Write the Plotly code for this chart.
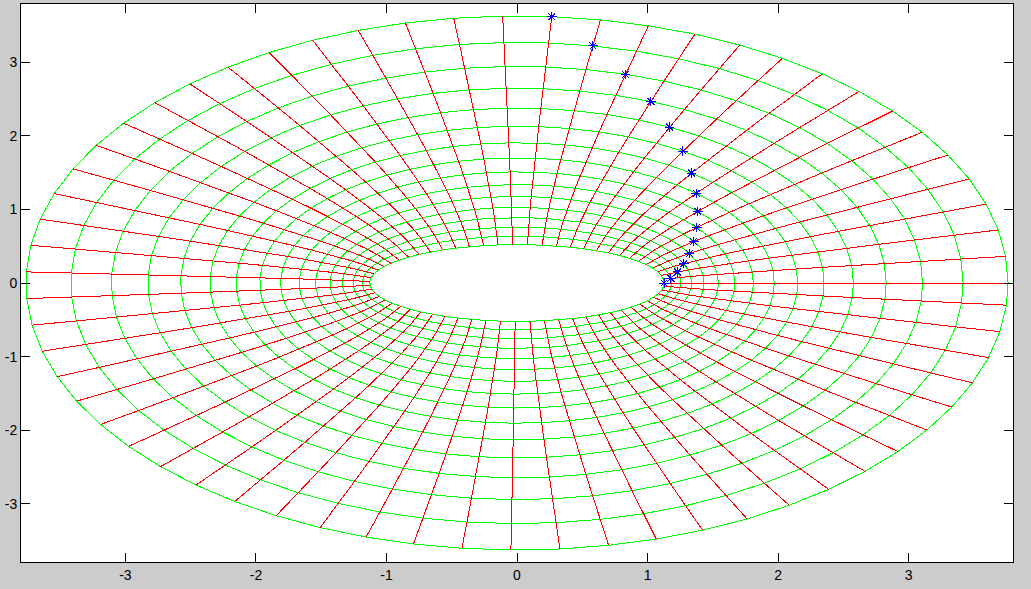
import numpy as np
import plotly.graph_objects as go

# Elliptic-coordinate grid parameters
u_levels = [0.5, 0.6, 0.7, 0.8, 0.9, 1.0, 1.1, 1.2, 1.3, 1.4, 1.5, 1.6, 1.7, 1.8, 1.9, 2.0]
v_levels = [round(0.1 * i, 1) for i in range(63)]  # 0.0 .. 6.2 rad
# Blue asterisk points (diagonal of the grid)
marker_u = [0.5, 0.6, 0.7, 0.8, 0.9, 1.0, 1.1, 1.2, 1.3, 1.4, 1.5, 1.6, 1.7, 1.8, 1.9, 2.0]
marker_v = [0.0, 0.1, 0.2, 0.3, 0.4, 0.5, 0.6, 0.7, 0.8, 0.9, 1.0, 1.1, 1.2, 1.3, 1.4, 1.5]
x_ticks = [-3, -2, -1, 0, 1, 2, 3]
y_ticks = [-3, -2, -1, 0, 1, 2, 3]
x_range = [-3.8, 3.8]
y_range = [-3.79, 3.79]

U = np.array(u_levels)
V = np.array(v_levels)

def to_xy(u, v):
    return np.cosh(u) * np.cos(v), np.sinh(u) * np.sin(v)

# green ellipses (constant u)
gx, gy = [], []
for u in U:
    vv = np.append(V, V[0])
    x, y = to_xy(u, vv)
    gx += list(x) + [None]
    gy += list(y) + [None]

# red hyperbolic lines (constant v)
rx, ry = [], []
for v in V:
    x, y = to_xy(U, v)
    rx += list(x) + [None]
    ry += list(y) + [None]

mx, my = to_xy(np.array(marker_u), np.array(marker_v))

fig = go.Figure()
fig.add_trace(go.Scatter(x=gx, y=gy, mode="lines", line=dict(color="#00FF00", width=1),
                         hoverinfo="skip", showlegend=False))
fig.add_trace(go.Scatter(x=rx, y=ry, mode="lines", line=dict(color="#FF0000", width=1),
                         hoverinfo="skip", showlegend=False))
fig.add_trace(go.Scatter(x=mx, y=my, mode="markers",
                         marker=dict(symbol="asterisk-open", size=8, color="#0000FF",
                                     line=dict(color="#0000FF", width=1)),
                         hoverinfo="skip", showlegend=False))

axis_common = dict(showgrid=False, zeroline=False, showline=True, linecolor="black",
                   linewidth=1, mirror="ticks", ticks="inside", ticklen=9,
                   tickcolor="black", tickwidth=1,
                   tickfont=dict(family="Liberation Sans, Arial, sans-serif", size=14, color="black"))

fig.update_layout(
    width=1031, height=589,
    margin=dict(l=21, r=18, t=4, b=27),
    paper_bgcolor="#CCCCCC", plot_bgcolor="white",
    hovermode=False,
    xaxis=dict(range=x_range, tickvals=x_ticks, ticktext=[str(t) for t in x_ticks], **axis_common),
    yaxis=dict(range=y_range, tickvals=y_ticks, ticktext=[str(t) for t in y_ticks], **axis_common),
)

post = ("document.body.style.margin='0';document.body.style.background='#CCCCCC';"
        "document.head.insertAdjacentHTML('beforeend',"
        "'<style>.scatterlayer path{shape-rendering:crispEdges}</style>');")
fig.write_html("out.html", post_script=post, config={"displayModeBar": False})
